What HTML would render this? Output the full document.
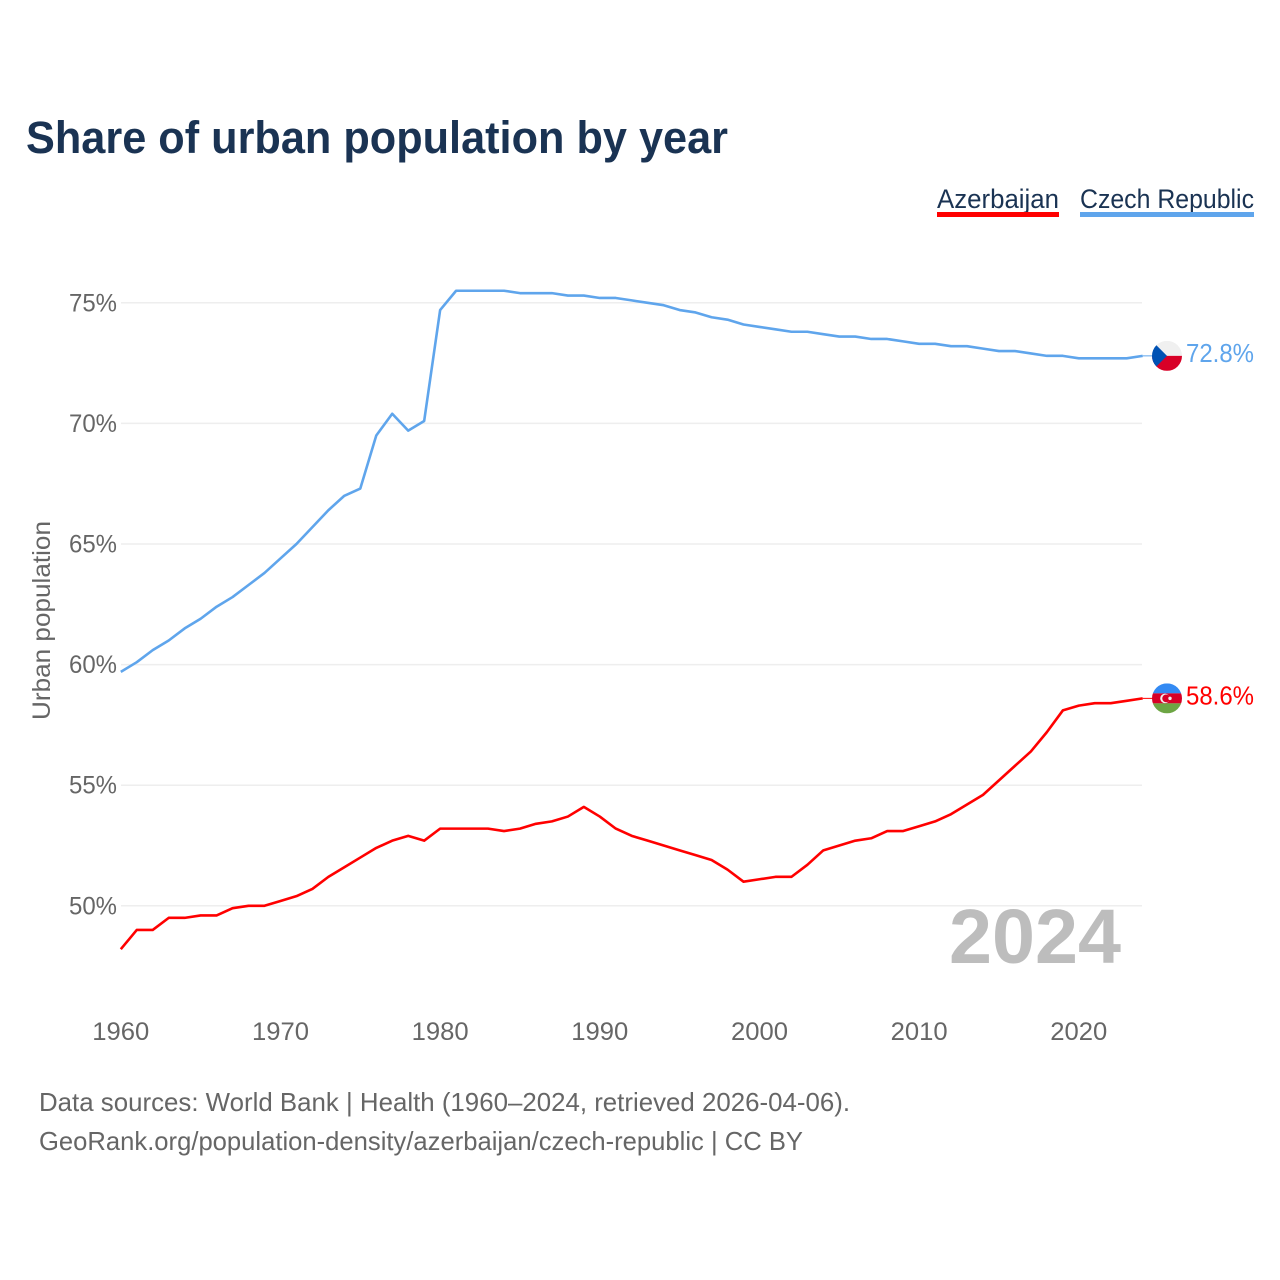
<!DOCTYPE html>
<html lang="en">
<head>
<meta charset="utf-8">
<title>Share of urban population by year</title>
<style>
  html, body { margin: 0; padding: 0; background: #fff; }
  svg { display: block; font-family: "Liberation Sans", sans-serif; }
</style>
</head>
<body>
<svg id="chart" xmlns="http://www.w3.org/2000/svg" width="1280" height="1280" viewBox="0 0 1280 1280">
  <defs>
    <clipPath id="flag-clip"><circle cx="0" cy="0" r="15"></circle></clipPath>
  </defs>
  <rect x="0" y="0" width="1280" height="1280" fill="#ffffff"></rect>
  <text x="26" y="153" font-size="45" font-weight="700" fill="#1a3353" textLength="702" lengthAdjust="spacingAndGlyphs">Share of urban population by year</text>

  <g>
    <g>
      <text x="937" y="208" font-size="27" fill="#1a3353" textLength="122" lengthAdjust="spacingAndGlyphs">Azerbaijan</text>
      <rect x="937" y="212" width="122" height="5" fill="#ff0000"></rect>
    </g>
    <g>
      <text x="1080" y="208" font-size="27" fill="#1a3353" textLength="174" lengthAdjust="spacingAndGlyphs">Czech Republic</text>
      <rect x="1080" y="212" width="174" height="5" fill="#5fa5ec"></rect>
    </g>
  </g>

  <g id="grid"></g>
  <g id="y-axis"></g>
  <g id="x-axis"></g>

  <text transform="translate(50,620.5) rotate(-90)" text-anchor="middle" font-size="25" fill="#666666" textLength="199" lengthAdjust="spacingAndGlyphs">Urban population</text>

  <text x="949" y="963" font-size="77" font-weight="700" fill="#bdbdbd" textLength="172" lengthAdjust="spacingAndGlyphs">2024</text>

  <g id="series"></g>

  <g id="flag-czech">
    <g clip-path="url(#flag-clip)">
      <rect x="-15" y="-15" width="30" height="15" fill="#f0f0f0"></rect>
      <rect x="-15" y="0" width="30" height="15" fill="#d80027"></rect>
      <polygon points="-15,-15 0,0 -15,15" fill="#0052b4"></polygon>
    </g>
  </g>
  <g id="flag-azerbaijan">
    <g clip-path="url(#flag-clip)">
      <rect x="-15" y="-15" width="30" height="10" fill="#338af3"></rect>
      <rect x="-15" y="-5" width="30" height="10" fill="#d80027"></rect>
      <rect x="-15" y="5" width="30" height="10" fill="#6da544"></rect>
      <circle cx="-2" cy="0" r="4.8" fill="#f0f0f0"></circle>
      <circle cx="-0.8" cy="0" r="3.9" fill="#d80027"></circle>
      <circle cx="3" cy="0" r="1.7" fill="#f0f0f0"></circle>
    </g>
  </g>

  <text x="39" y="1111" font-size="26" fill="#666666" textLength="811" lengthAdjust="spacingAndGlyphs">Data sources: World Bank | Health (1960–2024, retrieved 2026-04-06).</text>
  <text x="39" y="1150" font-size="26" fill="#666666" textLength="764" lengthAdjust="spacingAndGlyphs">GeoRank.org/population-density/azerbaijan/czech-republic | CC BY</text>
</svg>

<script>
const years = [1960,1961,1962,1963,1964,1965,1966,1967,1968,1969,1970,1971,1972,1973,1974,1975,1976,1977,1978,1979,1980,1981,1982,1983,1984,1985,1986,1987,1988,1989,1990,1991,1992,1993,1994,1995,1996,1997,1998,1999,2000,2001,2002,2003,2004,2005,2006,2007,2008,2009,2010,2011,2012,2013,2014,2015,2016,2017,2018,2019,2020,2021,2022,2023,2024];
const azerbaijanValues = [48.2,49.0,49.0,49.5,49.5,49.6,49.6,49.9,50.0,50.0,50.2,50.4,50.7,51.2,51.6,52.0,52.4,52.7,52.9,52.7,53.2,53.2,53.2,53.2,53.1,53.2,53.4,53.5,53.7,54.1,53.7,53.2,52.9,52.7,52.5,52.3,52.1,51.9,51.5,51.0,51.1,51.2,51.2,51.7,52.3,52.5,52.7,52.8,53.1,53.1,53.3,53.5,53.8,54.2,54.6,55.2,55.8,56.4,57.2,58.1,58.3,58.4,58.4,58.5,58.6];
const czechValues = [59.7,60.1,60.6,61.0,61.5,61.9,62.4,62.8,63.3,63.8,64.4,65.0,65.7,66.4,67.0,67.3,69.5,70.4,69.7,70.1,74.7,75.5,75.5,75.5,75.5,75.4,75.4,75.4,75.3,75.3,75.2,75.2,75.1,75.0,74.9,74.7,74.6,74.4,74.3,74.1,74.0,73.9,73.8,73.8,73.7,73.6,73.6,73.5,73.5,73.4,73.3,73.3,73.2,73.2,73.1,73.0,73.0,72.9,72.8,72.8,72.7,72.7,72.7,72.7,72.8];
const yTickValues = [50,55,60,65,70,75];
const xTickValues = [1960,1970,1980,1990,2000,2010,2020];

const SVG_NS = 'http://www.w3.org/2000/svg';
function xScale(year) { return 120.8 + (year - 1960) * (1079 - 121) / 60; }
function yScale(value) { return 905.8 - (value - 50) * (906 - 303) / 25; }
function make(tag, attrs, parent) {
  const node = document.createElementNS(SVG_NS, tag);
  Object.keys(attrs).forEach(function (key) { node.setAttribute(key, attrs[key]); });
  parent.appendChild(node);
  return node;
}

const gridLayer = document.getElementById('grid');
const yAxisLayer = document.getElementById('y-axis');
const xAxisLayer = document.getElementById('x-axis');
const seriesLayer = document.getElementById('series');

yTickValues.forEach(function (value) {
  const line = make('line', { x1: 121, x2: 1142, y1: yScale(value), y2: yScale(value), stroke: '#eeeeee', 'stroke-width': 1.5 }, gridLayer);
  
  
  const label = make('text', { x: 117, y: yScale(value) + 8.5, 'text-anchor': 'end', 'font-size': 25, fill: '#666666', textLength: 48, lengthAdjust: 'spacingAndGlyphs' }, yAxisLayer);
  
  
  label.textContent = value + '%';
});

xTickValues.forEach(function (year) {
  const label = make('text', { x: xScale(year), y: 1040, 'text-anchor': 'middle', 'font-size': 25, fill: '#666666', textLength: 57, lengthAdjust: 'spacingAndGlyphs' }, xAxisLayer);
  
  
  label.textContent = String(year);
});

function pathFor(values) {
  return values.map(function (value, i) {
    return (i === 0 ? 'M' : 'L') + xScale(years[i]).toFixed(2) + ' ' + yScale(value).toFixed(2);
  }).join(' ');
}

function drawSeries(values, color, flagId, slug) {
  const group = make('g', {}, seriesLayer);
  
  

  const path = make('path', { d: pathFor(values), fill: 'none', stroke: color, 'stroke-width': 2.6, 'stroke-linejoin': 'round' }, group);
  
  

  const last = values[values.length - 1];
  const endX = xScale(years[years.length - 1]);
  const endY = yScale(last);

  const connector = make('line', { x1: endX, x2: 1154, y1: endY, y2: endY, stroke: color, 'stroke-width': 1 }, group);
  
  

  document.getElementById(flagId).setAttribute('transform', 'translate(1167,' + endY + ')');

  const endLabel = make('text', { x: 1186, y: endY + 6, 'font-size': 26, fill: color, textLength: 68, lengthAdjust: 'spacingAndGlyphs' }, group);
  
  
  endLabel.textContent = last.toFixed(1) + '%';
}

drawSeries(czechValues, '#5fa5ec', 'flag-czech', 'czech-republic');
drawSeries(azerbaijanValues, '#ff0000', 'flag-azerbaijan', 'azerbaijan');
</script>
</body>
</html>
